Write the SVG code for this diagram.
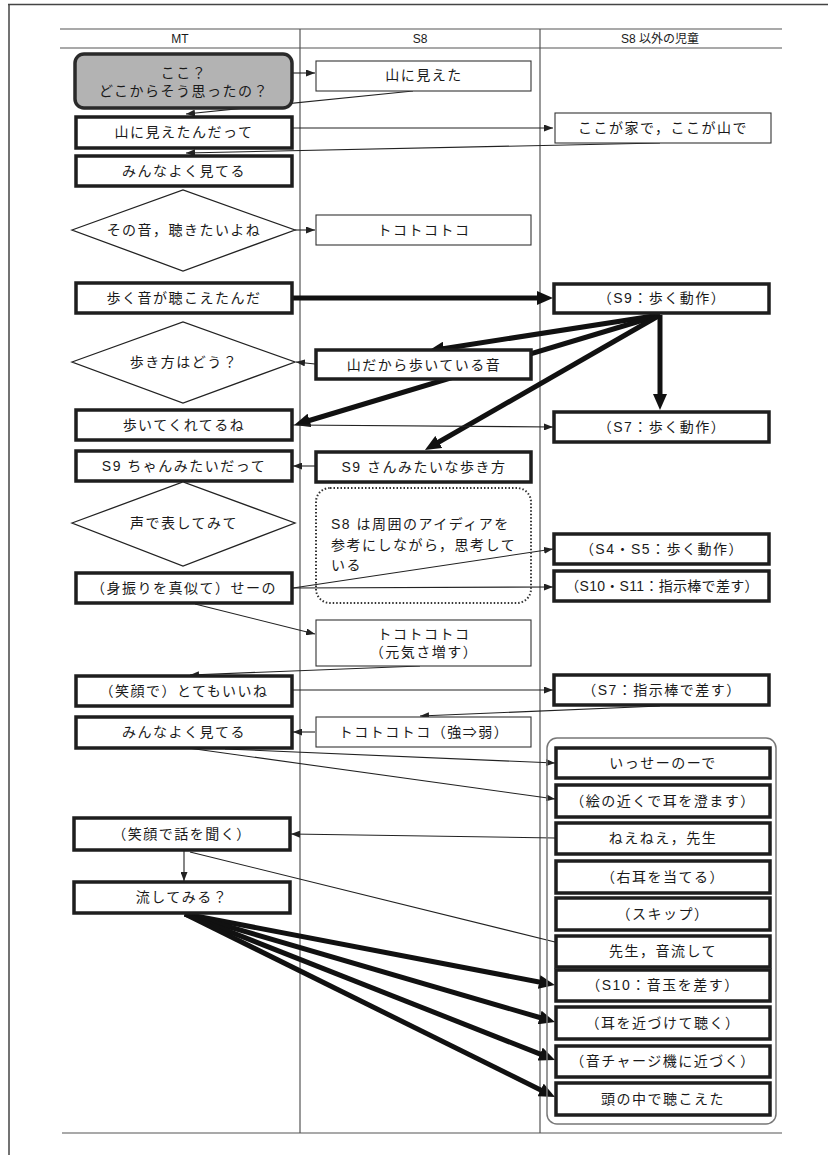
<svg xmlns="http://www.w3.org/2000/svg" width="828" height="1155" viewBox="0 0 828 1155">
<style>
.frame{stroke:#444;stroke-width:1.5;fill:none}
.grid{stroke:#555;stroke-width:1.2;fill:none}
.bk{fill:#fff;stroke:#1e1e1e;stroke-width:3.5}
.bn{fill:#fff;stroke:#333;stroke-width:1.1}
.dia{fill:#fff;stroke:#222;stroke-width:1.3}
.gray{fill:#b3b3b3;stroke:#2a2a2a;stroke-width:3.5}
.note{fill:none;stroke:#333;stroke-width:2;stroke-dasharray:1.5 2}
.grp{fill:none;stroke:#777;stroke-width:1.5}
.t{font-family:"Liberation Sans","Noto Sans CJK JP",sans-serif;font-size:14px;fill:#1a1a1a;text-anchor:middle;letter-spacing:1.5px}
.h{font-family:"Liberation Sans","Noto Sans CJK JP",sans-serif;font-size:12px;fill:#1a1a1a;text-anchor:middle}
.tl{text-anchor:start}
.c1{stroke:#222;stroke-width:1.1;fill:none}
.c1a{stroke:#222;stroke-width:1.1;fill:none;marker-end:url(#sa)}
.c5{stroke:#111;stroke-width:5;fill:none;marker-end:url(#ba)}
</style>
<defs>
<marker id="sa" markerUnits="userSpaceOnUse" markerWidth="9" markerHeight="7" refX="9" refY="3.5" orient="auto"><path d="M0,0 L9,3.5 L0,7 z" fill="#222"/></marker>
<marker id="ba" markerUnits="userSpaceOnUse" markerWidth="16" markerHeight="14" refX="9" refY="7" orient="auto"><path d="M0,0 L16,7 L0,14 z" fill="#111"/></marker>
</defs>

<g id="frame">
<line class="frame" x1="8" y1="4.5" x2="828" y2="4.5"/>
<line class="frame" x1="9" y1="4" x2="9" y2="1155"/>
<line class="grid" x1="60" y1="29" x2="782" y2="29"/>
<line class="grid" x1="60" y1="48" x2="782" y2="48"/>
<line class="grid" x1="62" y1="1133" x2="782" y2="1133"/>
<line class="grid" x1="300" y1="29" x2="300" y2="1133"/>
<line class="grid" x1="540" y1="29" x2="540" y2="1133"/>
<text class="h" x="180" y="43">MT</text>
<text class="h" x="420" y="43">S8</text>
<text class="h" x="660" y="43">S8 以外の児童</text>
</g>

<g id="connectors">
<line class="c1a" x1="293" y1="73" x2="315" y2="73"/>
<line class="c1a" x1="413" y1="91" x2="186" y2="114"/>
<line class="c1a" x1="293" y1="128" x2="553" y2="128"/>
<line class="c1a" x1="660" y1="143" x2="186" y2="153"/>
<line class="c1a" x1="295" y1="230" x2="315" y2="230"/>
<line class="c5" x1="293" y1="298" x2="546" y2="298"/>
<line class="c5" x1="660" y1="315" x2="435" y2="350"/>
<line class="c5" x1="660" y1="315" x2="301" y2="423"/>
<line class="c5" x1="660" y1="315" x2="431" y2="446.5"/>
<line class="c5" x1="660" y1="315" x2="660" y2="403"/>
<line class="c1a" x1="315" y1="364" x2="296" y2="362"/>
<line class="c1a" x1="293" y1="425" x2="553" y2="427"/>
<line class="c1a" x1="315" y1="466" x2="293" y2="466"/>
<line class="c1a" x1="293" y1="588" x2="553" y2="549"/>
<line class="c1a" x1="293" y1="588" x2="553" y2="587"/>
<line class="c1a" x1="195" y1="604" x2="315" y2="634"/>
<line class="c1a" x1="420" y1="666" x2="190" y2="675"/>
<line class="c1a" x1="293" y1="690" x2="553" y2="690"/>
<line class="c1a" x1="660" y1="706" x2="420" y2="716"/>
<line class="c1a" x1="315" y1="732" x2="293" y2="732"/>
<line class="c1a" x1="225" y1="749" x2="555" y2="763"/>
<line class="c1a" x1="188" y1="748" x2="555" y2="799"/>
<line class="c1a" x1="555" y1="838" x2="291" y2="834"/>
<line class="c1a" x1="184" y1="851" x2="184" y2="881"/>
<line class="c1" x1="190" y1="852" x2="555" y2="942"/>
<line class="c5" x1="185" y1="914" x2="548" y2="983.7"/>
<line class="c5" x1="185" y1="914" x2="548.3" y2="1020"/>
<line class="c5" x1="185" y1="914" x2="548.5" y2="1057.4"/>
<line class="c5" x1="185" y1="914" x2="548.7" y2="1093.9"/>
</g>

<g id="mt1"><rect class="gray" x="75" y="54" width="217" height="54" rx="9"/><text class="t" x="184" y="78">ここ？</text><text class="t" x="184" y="96">どこからそう思ったの？</text></g>
<g id="mt2"><rect class="bk" x="76" y="117" width="216" height="31"/><text class="t" x="184" y="137">山に見えたんだって</text></g>
<g id="mt3"><rect class="bk" x="76" y="156" width="216" height="30"/><text class="t" x="184" y="176">みんなよく見てる</text></g>
<g id="mt4"><polygon class="dia" points="72,230 183,190 295,230 183,271"/><text class="t" x="184" y="235">その音，聴きたいよね</text></g>
<g id="mt5"><rect class="bk" x="76" y="283" width="216" height="30"/><text class="t" x="184" y="303">歩く音が聴こえたんだ</text></g>
<g id="mt6"><polygon class="dia" points="72,362 183,322 295,362 183,403"/><text class="t" x="184" y="367">歩き方はどう？</text></g>
<g id="mt7"><rect class="bk" x="76" y="410" width="216" height="30"/><text class="t" x="184" y="430">歩いてくれてるね</text></g>
<g id="mt8"><rect class="bk" x="76" y="451" width="216" height="30"/><text class="t" x="184" y="471">S9 ちゃんみたいだって</text></g>
<g id="mt9"><polygon class="dia" points="72,523 183,482 295,523 183,566"/><text class="t" x="184" y="528">声で表してみて</text></g>
<g id="mt10"><rect class="bk" x="76" y="573" width="216" height="30"/><text class="t" x="184" y="593">（身振りを真似て）せーの</text></g>
<g id="mt11"><rect class="bk" x="76" y="676" width="216" height="30"/><text class="t" x="184" y="696">（笑顔で）とてもいいね</text></g>
<g id="mt12"><rect class="bk" x="76" y="717" width="216" height="31"/><text class="t" x="184" y="737">みんなよく見てる</text></g>
<g id="mt13"><rect class="bk" x="74" y="818" width="216" height="32"/><text class="t" x="182" y="839">（笑顔で話を聞く）</text></g>
<g id="mt14"><rect class="bk" x="74" y="882" width="216" height="31"/><text class="t" x="182" y="902">流してみる？</text></g>

<g id="s8a"><rect class="bn" x="316" y="61" width="215" height="30"/><text class="t" x="424" y="80">山に見えた</text></g>
<g id="s8b"><rect class="bn" x="316" y="215" width="215" height="30"/><text class="t" x="424" y="235">トコトコトコ</text></g>
<g id="s8c"><rect class="bk" x="316" y="350" width="215" height="29"/><text class="t" x="424" y="370">山だから歩いている音</text></g>
<g id="s8d"><rect class="bk" x="316" y="452" width="215" height="30"/><text class="t" x="424" y="472">S9 さんみたいな歩き方</text></g>
<g id="s8note"><rect class="note" x="316" y="488" width="215" height="115" rx="14"/><text class="t tl" x="331" y="529">S8 は周囲のアイディアを</text><text class="t tl" x="331" y="550">参考にしながら，思考して</text><text class="t tl" x="331" y="570">いる</text></g>
<g id="s8e"><rect class="bn" x="316" y="620" width="215" height="46"/><text class="t" x="424" y="639">トコトコトコ</text><text class="t" x="424" y="657">（元気さ増す）</text></g>
<g id="s8f"><rect class="bn" x="316" y="717" width="215" height="30"/><text class="t" x="424" y="737">トコトコトコ（強⇒弱）</text></g>

<g id="o1"><rect class="bn" x="555" y="113" width="216" height="30"/><text class="t" x="663" y="133">ここが家で，ここが山で</text></g>
<g id="o2"><rect class="bk" x="554" y="284" width="215" height="29"/><text class="t" x="662" y="303">（S9：歩く動作）</text></g>
<g id="o3"><rect class="bk" x="554" y="412" width="215" height="30"/><text class="t" x="662" y="432">（S7：歩く動作）</text></g>
<g id="o4"><rect class="bk" x="554" y="534" width="215" height="30"/><text class="t" x="662" y="554">（S4・S5：歩く動作）</text></g>
<g id="o5"><rect class="bk" x="554" y="571" width="215" height="30"/><text class="t" x="662" y="591" style="letter-spacing:0.3px">（S10・S11：指示棒で差す）</text></g>
<g id="o6"><rect class="bk" x="554" y="675" width="215" height="30"/><text class="t" x="662" y="695">（S7：指示棒で差す）</text></g>

<g id="group"><rect class="grp" x="547" y="738" width="229" height="386" rx="10"/></g>
<g id="g1"><rect class="bk" x="556" y="748" width="214" height="30"/><text class="t" x="663" y="768">いっせーのーで</text></g>
<g id="g2"><rect class="bk" x="556" y="785" width="214" height="32"/><text class="t" x="663" y="806">（絵の近くで耳を澄ます）</text></g>
<g id="g3"><rect class="bk" x="556" y="823" width="214" height="31"/><text class="t" x="663" y="843">ねえねえ，先生</text></g>
<g id="g4"><rect class="bk" x="556" y="861" width="214" height="32"/><text class="t" x="663" y="882">（右耳を当てる）</text></g>
<g id="g5"><rect class="bk" x="556" y="898" width="214" height="32"/><text class="t" x="663" y="919">（スキップ）</text></g>
<g id="g6"><rect class="bk" x="556" y="936" width="214" height="31"/><text class="t" x="663" y="956">先生，音流して</text></g>
<g id="g7"><rect class="bk" x="556" y="970" width="214" height="31"/><text class="t" x="663" y="990">（S10：音玉を差す）</text></g>
<g id="g8"><rect class="bk" x="556" y="1007" width="214" height="32"/><text class="t" x="663" y="1028">（耳を近づけて聴く）</text></g>
<g id="g9"><rect class="bk" x="556" y="1046" width="214" height="31"/><text class="t" x="663" y="1066">（音チャージ機に近づく）</text></g>
<g id="g10"><rect class="bk" x="556" y="1083" width="214" height="32"/><text class="t" x="663" y="1104">頭の中で聴こえた</text></g>
</svg>
